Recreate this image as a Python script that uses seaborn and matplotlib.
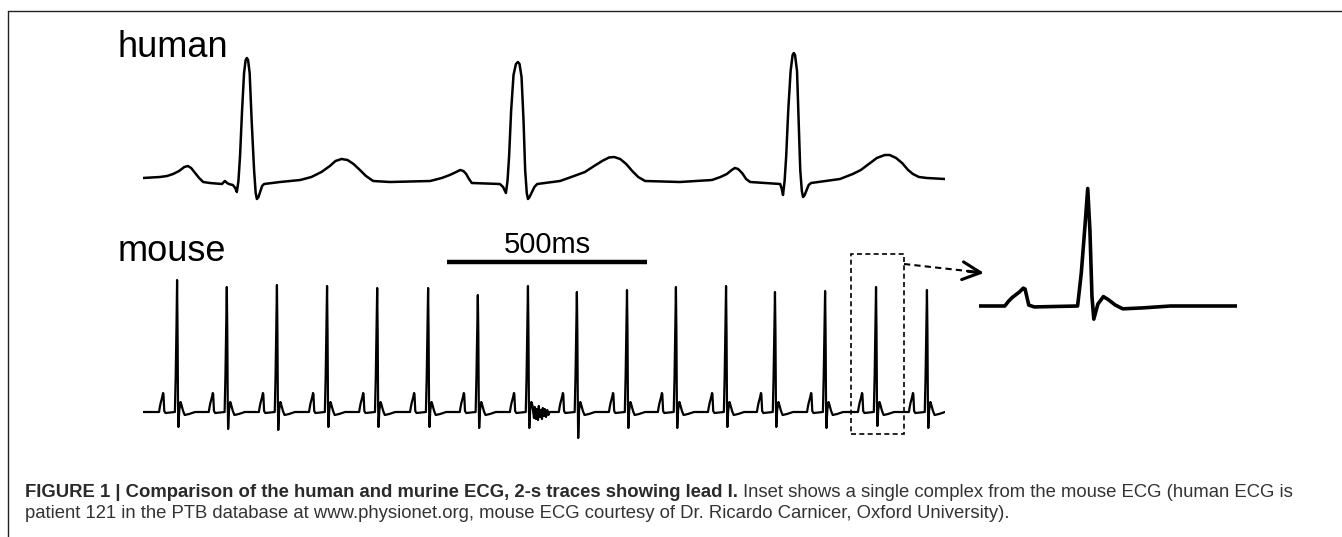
import numpy as np
import pandas as pd
import matplotlib
matplotlib.use('Agg')
import matplotlib.pyplot as plt
import seaborn as sns

sns.set_style('white')
plt.rcParams['font.family'] = ['Liberation Sans', 'DejaVu Sans']
plt.rcParams['text.color'] = 'black'

# human lead I, 2 s trace (time in ms, amplitude in mV)
human_t = [0, 42, 60, 75, 90, 103, 112, 120, 130, 140, 150, 167, 197, 204, 210, 214, 224, 230, 234, 238,
           242, 247, 252, 256, 259, 262, 266, 271, 277, 281, 284, 288, 292, 297, 302,
           342, 392, 420, 445, 466, 480, 495, 510, 525, 541, 556, 574, 616,
           716, 745, 765, 781, 791, 799, 806, 813, 820,
           890, 898, 905, 909, 913, 918, 924, 930, 935, 939, 944, 949, 953, 957, 960, 964, 970, 976, 983,
           1040, 1075, 1102, 1125, 1145, 1162, 1175, 1190, 1205, 1220, 1235, 1252, 1339,
           1419, 1440, 1456, 1468, 1476, 1484, 1494, 1504, 1514,
           1589, 1593, 1596, 1600, 1604, 1609, 1615, 1620, 1623, 1626, 1631, 1635, 1639, 1643, 1646, 1650,
           1655, 1660, 1666,
           1738, 1770, 1790, 1810, 1830, 1850, 1862, 1878, 1893, 1908, 1920, 1935, 1955, 2000]
human_v = [0.03, 0.04, 0.05, 0.07, 0.10, 0.14, 0.15, 0.13, 0.08, 0.03, -0.01, -0.02, -0.03, 0.0, -0.02,
           -0.03, -0.04, -0.07, -0.11, 0.0, 0.25, 0.7, 1.08, 1.21, 1.23, 1.21, 1.08, 0.6, 0.11, -0.12,
           -0.18, -0.16, -0.11, -0.05, -0.03,
           -0.01, 0.01, 0.04, 0.09, 0.15, 0.20, 0.22, 0.21, 0.17, 0.11, 0.05, 0.0, -0.01,
           0.0, 0.03, 0.06, 0.09, 0.11, 0.10, 0.07, 0.02, -0.02,
           -0.03, -0.06, -0.12, 0.0, 0.25, 0.7, 1.06, 1.17, 1.19, 1.17, 1.04, 0.6, 0.11, -0.12, -0.18,
           -0.16, -0.11, -0.06, -0.03,
           0.0, 0.05, 0.09, 0.15, 0.20, 0.235, 0.24, 0.22, 0.17, 0.10, 0.04, 0.0, -0.01,
           0.01, 0.04, 0.07, 0.11, 0.13, 0.12, 0.08, 0.02, -0.01,
           -0.03, -0.08, -0.14, 0.0, 0.25, 0.7, 1.1, 1.26, 1.28, 1.26, 1.1, 0.6, 0.11, -0.10, -0.16, -0.14,
           -0.09, -0.04, -0.02,
           0.02, 0.07, 0.11, 0.17, 0.23, 0.26, 0.26, 0.23, 0.18, 0.11, 0.07, 0.04, 0.03, 0.02]

# mouse lead I: R-peak times (ms), R heights and S depths (mV)
mouse_r_t = [85, 209, 334, 459, 584, 711, 835, 960, 1082, 1207, 1329, 1454, 1576, 1701, 1828, 1955]
mouse_r_v = [1.32, 1.25, 1.27, 1.26, 1.24, 1.24, 1.17, 1.26, 1.20, 1.22, 1.25, 1.26, 1.20, 1.21, 1.25, 1.22]
mouse_s_v = [-0.15, -0.17, -0.18, -0.15, -0.15, -0.15, -0.16, -0.16, -0.26, -0.16, -0.16, -0.15, -0.15,
             -0.16, -0.14, -0.16]

# one mouse complex, ms from the R peak ('R' and 'S' filled per beat)
beat_dt = [-45, -43, -41, -37, -35, -34, -32, -29, -5.5, -3.5, -1.5, 0, 1.2, 2.3, 3.3, 5.5, 8.5, 11, 15,
           19, 30, 45]
beat_v = [0.0, 0.05, 0.09, 0.15, 0.19, 0.18, 0.01, -0.01, 0.0, 0.35, 0.85, 'R', 0.8, 0.1, 'S', 0.02, 0.1,
          0.07, 0.01, -0.03, -0.02, 0.0]

# movement artefact after the 8th complex
noise_t = [972, 975, 977, 980, 982, 985, 987, 990, 992, 995, 997, 1000, 1002, 1005, 1008, 1011, 1014]
noise_v = [0.04, -0.06, 0.05, -0.07, 0.03, -0.08, 0.06, -0.05, 0.02, -0.07, 0.04, -0.04, 0.03, -0.05,
           0.02, -0.03, 0.0]

inset_beat = 14  # complex shown enlarged

human = pd.DataFrame({'t': human_t, 'v': human_v})

rows = [(0, 0.0)]
for tr, rv, sv in zip(mouse_r_t, mouse_r_v, mouse_s_v):
    for dt, v in zip(beat_dt, beat_v):
        if v == 'R':
            v = rv
        elif v == 'S':
            v = sv
        rows.append((tr + dt, v))
mouse = pd.DataFrame(rows, columns=['t', 'v'])
mouse = mouse[(mouse.t < noise_t[0]) | (mouse.t > noise_t[-1])]
mouse = pd.concat([mouse, pd.DataFrame({'t': noise_t, 'v': noise_v})]).sort_values('t')

W, H = 1342, 537
fig = plt.figure(figsize=(W / 100, H / 100), dpi=100)


def px_axes(x0, x1, y0, y1):
    a = fig.add_axes([x0 / W, 1 - y1 / H, (x1 - x0) / W, (y1 - y0) / H])
    a.set_axis_off()
    a.patch.set_alpha(0)
    return a


# overlay in pixel coordinates for frame, labels, caption
ax0 = fig.add_axes([0, 0, 1, 1])
ax0.set_xlim(0, W)
ax0.set_ylim(H, 0)
ax0.set_axis_off()

ax_h = px_axes(143, 945, 40, 210)
sns.lineplot(data=human, x='t', y='v', ax=ax_h, color='black', lw=1.8, estimator=None)
ax_h.set_xlim(0, 2000)
ax_h.set_ylim((181 - 210) / 100, (181 - 40) / 100)

ax_m = px_axes(143, 945, 225, 445)
sns.lineplot(data=mouse, x='t', y='v', ax=ax_m, color='black', lw=1.6, estimator=None)
ax_m.set_xlim(0, 2000)
ax_m.set_ylim((412 - 445) / 100, (412 - 225) / 100)

# 500 ms scale bar
ax_m.plot([758, 1258], [1.5, 1.5], color='black', lw=3.2, solid_capstyle='butt')
ax_m.text(1008, 1.59, '500ms', ha='center', va='baseline', fontsize=21)

# dashed box round the enlarged complex
tb = mouse_r_t[inset_beat]
ax_m.add_patch(plt.Rectangle((tb - 62, -0.22), 132, 1.80, fill=False, ec='black', lw=1.2,
                             ls=(0, (3, 2)), clip_on=False))

ax_i = px_axes(979, 1237, 180, 330)
sns.lineplot(data=mouse, x='t', y='v', ax=ax_i, color='black', lw=2.6, estimator=None)
ax_i.set_xlim(tb - 59, tb + 81)
ax_i.set_ylim((306 - 330) / 94, (306 - 180) / 94)

# frame
ax0.plot([8, 8], [11, H], color='#222222', lw=1.0)
ax0.plot([8, W], [11, 11], color='#222222', lw=1.0)

# arrow box -> inset
ax0.plot([904, 972], [264, 271.5], color='black', lw=1.5, ls=(0, (3, 2)))
ax0.annotate('', xy=(984, 273), xytext=(968, 271.3),
             arrowprops=dict(arrowstyle='->, head_length=0.65, head_width=0.32', lw=2.2,
                             color='black', mutation_scale=20, shrinkA=0, shrinkB=0))

ax0.text(117, 57, 'human', fontsize=26, va='baseline', color='black')
ax0.text(118, 261, 'mouse', fontsize=26, va='baseline', color='black')

# caption
bold = 'FIGURE 1 | Comparison of the human and murine ECG, 2-s traces showing lead I.'
reg1 = 'Inset shows a single complex from the mouse ECG (human ECG is'
line2 = ('patient 121 in the PTB database at www.physionet.org, mouse ECG courtesy of '
         'Dr. Ricardo Carnicer, Oxford University).')
fs = 11
cb = ax0.text(25, 497, bold, fontsize=fs, fontweight='bold', color='#2a2a2a', va='baseline')
cr = ax0.text(0, 497, reg1, fontsize=fs, color='#333333', va='baseline')
c2 = ax0.text(25, 518, line2, fontsize=fs, color='#333333', va='baseline')
fig.canvas.draw()
r = fig.canvas.get_renderer()
wb = cb.get_window_extent(r).width
wr = cr.get_window_extent(r).width
scale = (1300 - 25 - 5) / (wb + wr)
for t in (cb, cr, c2):
    t.set_fontsize(fs * scale)
fig.canvas.draw()
cr.set_x(cb.get_window_extent(r).x1 + 5)

fig.savefig('out.png', dpi=100)
